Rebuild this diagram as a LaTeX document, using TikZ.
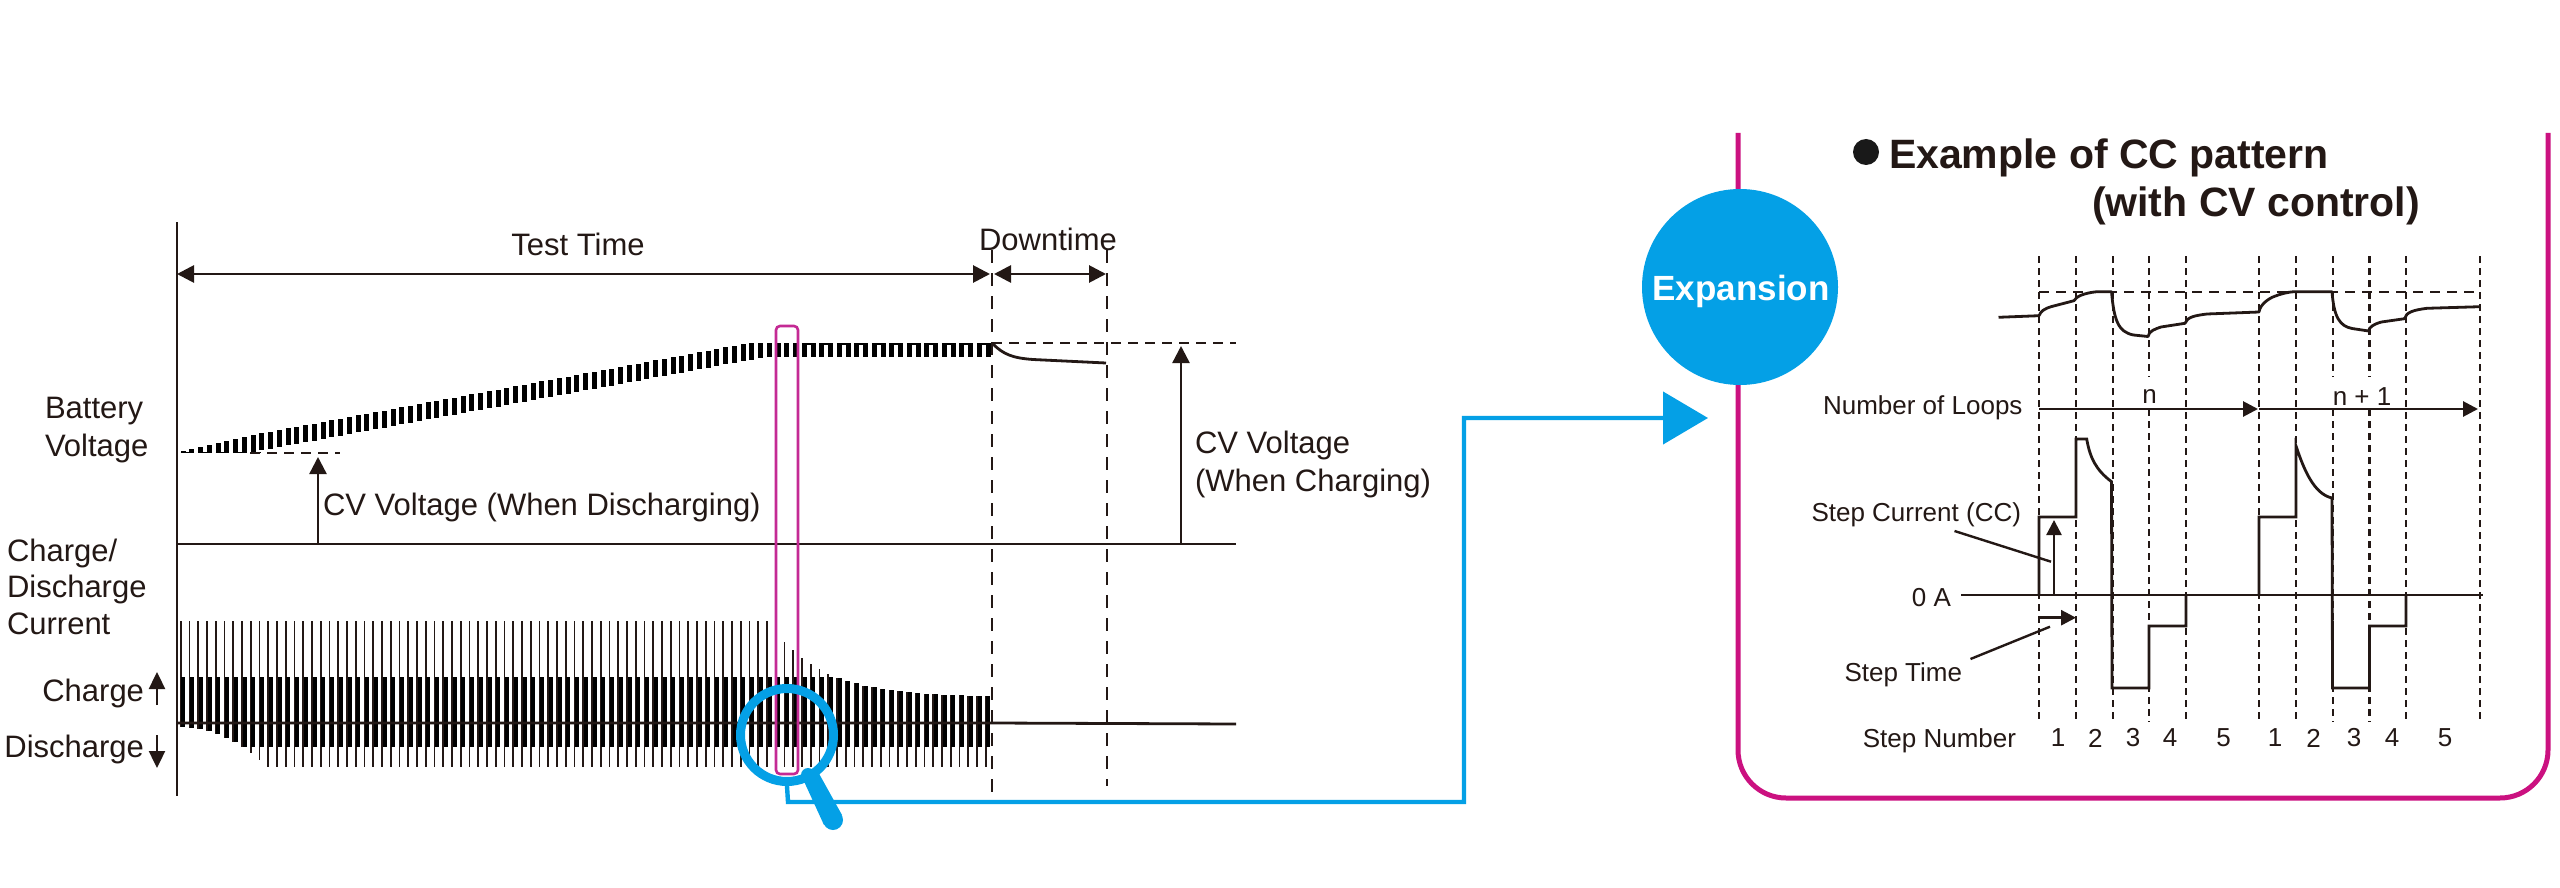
\documentclass[tikz,border=0pt]{standalone}
\usepackage{fontspec}
\setmainfont{Liberation Sans}
\usetikzlibrary{arrows.meta,calc}
\definecolor{ink}{HTML}{231815}
\definecolor{skyb}{HTML}{04A0E6}
\definecolor{magp}{HTML}{CB1180}
\definecolor{magn}{HTML}{C42A94}
\tikzset{
  x=1pt,y=-1pt,
  lab/.style={inner sep=0pt,outer sep=0pt,text=ink,font=\fontsize{31}{36}\selectfont},
  smalllab/.style={inner sep=0pt,outer sep=0pt,text=ink,font=\fontsize{26}{30}\selectfont},
  titlelab/.style={inner sep=0pt,outer sep=0pt,text=ink,font=\bfseries\fontsize{41}{48}\selectfont},
  solidline/.style={draw=ink,line width=2.8pt},
  thinline/.style={draw=ink,line width=2.4pt},
  bigdash/.style={draw=ink,line width=2.8pt,dash pattern=on 13pt off 10pt},
  hdash/.style={draw=ink,line width=2.4pt,dash pattern=on 10pt off 7pt},
  smalldash/.style={draw=ink,line width=2.2pt,dash pattern=on 7pt off 5pt},
  bighead/.style={-{Triangle[length=17pt,width=17pt]}},
  bothhead/.style={{Triangle[length=17pt,width=17pt]}-{Triangle[length=17pt,width=17pt]}},
  smallhead/.style={-{Triangle[length=15pt,width=15pt]}},
}
\begin{document}
\begin{tikzpicture}
\useasboundingbox (0,0) rectangle (2560,888);
\fill[white] (0,0) rectangle (2560,888);

% --- panel
\draw[magp,line width=5pt,line cap=butt] (1738,133) -- (1738,750) arc[start angle=180,end angle=90,radius=48,y=1pt]
  -- (2500,798) arc[start angle=90,end angle=0,radius=48,y=1pt] -- (2548,133);

% --- left chart: pulses
\foreach \k in {-60,...,32}{
  \pgfmathsetmacro{\px}{705.7+8.75*\k}
  \pgfmathsetmacro{\curtop}{\px<775 ? 621 : 697-67*exp(-(max(\px,775)-775)/50)}
  \pgfmathsetmacro{\bartop}{max(677,\curtop)}
  \pgfmathsetmacro{\curbot}{727+40*((min(\px,268)-177)/91)^2}
  \pgfmathsetmacro{\barbot}{min(747,\curbot)}
  \fill[ink] (\px-0.8,\curtop) rectangle (\px+0.8,\curbot);
  \fill[black] (\px+0.6,\bartop) rectangle (\px+4.6,\barbot);
  \pgfmathsetmacro{\vbot}{min(453,max(357,452-0.185*(\px-250)))}
  \pgfmathsetmacro{\vtop}{max(343,\px<250 ? 451-(\px-180)*0.23 : \vbot-17)}
  \fill[black] (\px,\vtop) rectangle (\px+5,\vbot);
  \pgfmathtruncatemacro{\odd}{mod(\k+60,2)}
  \ifnum\odd=1
    \ifdim\px pt>800pt
      \draw[black,line width=1.6pt] (\px,\vtop+0.8) -- (\px+10,\vtop+0.8);
    \fi
  \fi
}
\foreach \k in {-60,-58,-56,-54,-52}{
  \pgfmathsetmacro{\px}{705.7+8.75*\k}
  \draw[black,line width=1.6pt] (\px,452.5) -- (\px+10,452.5);
}

% --- coordinates
\coordinate (axT) at (177,222);
\coordinate (axB) at (177,796);
\coordinate (ttL) at (177,274);
\coordinate (ttR) at (990,274);
\coordinate (dtL) at (994,274);
\coordinate (dtR) at (1106,274);
\coordinate (d1T) at (992,250);
\coordinate (d1B) at (992,793);
\coordinate (d2T) at (1107,250);
\coordinate (d2B) at (1107,786);
\coordinate (zL) at (177,544);
\coordinate (zR) at (1236,544);
\coordinate (cL) at (177,723);
\coordinate (cM) at (992,723);
\coordinate (cR) at (1236,724);
\coordinate (a1B) at (318,544);
\coordinate (a1T) at (318,457);
\coordinate (a2B) at (1181,544);
\coordinate (a2T) at (1181,346);
\coordinate (hd1L) at (250,453);
\coordinate (hd1R) at (340,453);
\coordinate (hd2L) at (992,343);
\coordinate (hd2R) at (1236,343);

\draw[solidline] (axT) -- (axB);
\draw[solidline] (zL) -- (zR);
\draw[solidline] (cL) -- (cM) -- (cR);
\draw[thinline,bighead] (a1B) -- (a1T);
\draw[thinline,bighead] (a2B) -- (a2T);
\draw[solidline,bothhead] (ttL) -- (ttR);
\draw[solidline,bothhead] (dtL) -- (dtR);
\draw[bigdash] (d1T) -- (d1B);
\draw[bigdash] (d2T) -- (d2B);
\draw[hdash] (hd1L) -- (hd1R);
\draw[hdash] (hd2L) -- (hd2R);
\draw[solidline] (993,344) .. controls (1003,354) and (1012,358) .. (1033,359.5) -- (1106,363);
\draw[draw=ink,line width=2.4pt,-{Triangle[length=17pt,width=16pt]}] (157,705) -- (157,672);
\draw[draw=ink,line width=2.4pt,-{Triangle[length=17pt,width=16pt]}] (157,735) -- (157,768);

% --- selection box
\draw[magn,line width=2.6pt,rounded corners=4pt] (776,326) rectangle (798,774);

% --- left labels
\node[lab,anchor=west] (battA) at (45,411) {Battery};
\node[lab,anchor=west] (battB) at (45,448) {Voltage};
\node[lab,anchor=west] (chgA) at (7,553) {Charge/};
\node[lab,anchor=west] (chgB) at (7,589) {Discharge};
\node[lab,anchor=west] (chgC) at (7,624) {Current};
\node[lab,anchor=east] (chg) at (144,693.5) {Charge};
\node[lab,anchor=east] (dis) at (144,749.5) {Discharge};
\node[lab] (tt) at (578,244) {Test Time};
\node[lab] (dt) at (1048,239) {Downtime};
\node[lab,anchor=west] (cvd) at (323,507) {CV Voltage (When Discharging)};
\node[lab,anchor=west] (cvcA) at (1195,445) {CV Voltage};
\node[lab,anchor=west] (cvcB) at (1195,483) {(When Charging)};

% --- magnifier
\node[circle,draw=skyb,line width=9pt,minimum size=93pt,inner sep=0pt] (lens) at (787,735) {};
\coordinate (hS) at (808,775);
\coordinate (hE) at (833,820);

% --- expansion connector
\coordinate (c1) at (788,802);
\coordinate (c2) at (1464,802);
\coordinate (c3) at (1464,418);
\coordinate (tip) at (1708,418);
\draw[skyb,line width=4.4pt,-{Triangle[length=45pt,width=52pt]}] (lens.south) -- (c1) -- (c2) -- (c3) -- (tip);
\fill[skyb] ($(hS)+(-6,2)$) -- ($(hS)+(9,-5)$) -- ($(hE)+(9,-5)$) -- ($(hE)+(-9,5)$) -- cycle;
\fill[skyb] (hE) circle[radius=10pt];
\fill[skyb] (hS) circle[radius=7pt];

\node[circle,fill=skyb,minimum size=196pt,inner sep=0pt,outer sep=0pt] (exp) at (1740,287) {};
\node[inner sep=0pt,text=white,font=\bfseries\fontsize{35}{40}\selectfont] (explab) at (1741,291) {Expansion};

% --- title
\fill[black!90] (1866,152) circle[radius=13pt];
\node[titlelab,anchor=west] (t1) at (1889,158) {Example of CC pattern};
\node[titlelab,anchor=west] (t2) at (2092,206) {(with CV control)};

% --- detail dashed verticals
\foreach \xx in {2039,2076,2113,2186,2259,2296,2406,2480}{
  \draw[smalldash] (\xx,256) -- (\xx,722);
}
\foreach \xx in {2149,2333,2369.5}{
  \draw[smalldash] (\xx,256) -- (\xx,377);
  \draw[smalldash] (\xx,409) -- (\xx,722);
}
\coordinate (hdA) at (2039,292);
\coordinate (hdB) at (2480,292);
\draw[hdash] (hdA) -- (hdB);

% --- detail voltage curve
\draw[solidline] (1998.5,317.3) -- (2039,315.7);
\draw[solidline,line join=round] (2039,315.7) .. controls (2041,311) and (2044,309) .. (2051,306.7) -- (2074,300.7) .. controls (2076,296.5) and (2084,293) .. (2097,291.7) -- (2111.5,291.7)
  .. controls (2114,320) and (2118,332) .. (2133.5,335) -- (2148,336.5) .. controls (2149,331) and (2155,329) .. (2161,327) -- (2185,323.3)
  .. controls (2187,317) and (2195,315.5) .. (2207,314) -- (2259,312) .. controls (2260,304) and (2270,298) .. (2273.6,296.7) .. controls (2280,294) and (2288,292) .. (2294,291.7) -- (2332,291.7)
  .. controls (2334,318) and (2340,326) .. (2352,328.5) -- (2368.6,331) .. controls (2369,327) and (2374,324) .. (2381.5,322) -- (2404.5,318.7)
  .. controls (2406,312) and (2414,310) .. (2427,308.3) -- (2479.7,306.7);

% --- loops
\coordinate (lA) at (2039,409);
\coordinate (lB) at (2258,409);
\coordinate (lC) at (2259,409);
\coordinate (lD) at (2478,409);
\draw[solidline,smallhead] (lA) -- (lB);
\draw[solidline,smallhead] (lC) -- (lD);
\node[smalllab] (n1) at (2149.6,397) {n};
\node[smalllab] (n2) at (2362,397) {n + 1};
\node[smalllab,anchor=east] (nl) at (2022.5,408) {Number of Loops};

% --- detail current
\coordinate (zA) at (1961,595);
\coordinate (zB) at (2483,595);
\draw[solidline] (zA) -- (zB);
\draw[solidline,line join=miter] (2039,595) -- (2039,517) -- (2076,517) -- (2076,439) -- (2086.7,439)
  .. controls (2090,458) and (2096,470) .. (2111.5,481.7) -- (2112,688) -- (2149,688) -- (2149,626) -- (2186,626) -- (2186,595);
\draw[solidline,line join=miter] (2259,595) -- (2259,517) -- (2296,517) -- (2296,446)
  .. controls (2304,470) and (2314,494) .. (2332,498) -- (2332.5,688) -- (2369.5,688) -- (2369.5,626) -- (2406,626) -- (2406,595);
\coordinate (scB) at (2054,595);
\coordinate (scT) at (2054,520);
\draw[thinline,smallhead] (scB) -- (scT);
\coordinate (stL) at (2039,617.7);
\coordinate (stR) at (2076,617.7);
\draw[solidline,smallhead] (stL) -- (stR);
\coordinate (ld1) at (2051,561.7);
\coordinate (ld2) at (2050,626.7);
\node[smalllab,anchor=east] (sc) at (2021,515) {Step Current (CC)};
\node[smalllab,anchor=east] (st) at (1962,675) {Step Time};
\node[smalllab,anchor=east] (oa) at (1951,598) {0 A};
\draw[thinline] (1954.5,531) -- (ld1);
\draw[thinline] (1970.5,659) -- (ld2);
\node[smalllab,anchor=east] (sn) at (2016,741) {Step Number};
\node[smalllab] (s1) at (2058,738) {1};
\node[smalllab] (s2) at (2095.4,738) {2};
\node[smalllab] (s3) at (2133,738) {3};
\node[smalllab] (s4) at (2170,738) {4};
\node[smalllab] (s5) at (2223.5,738) {5};
\node[smalllab] (s6) at (2275,738) {1};
\node[smalllab] (s7) at (2313.5,738) {2};
\node[smalllab] (s8) at (2354,738) {3};
\node[smalllab] (s9) at (2392,738) {4};
\node[smalllab] (s10) at (2445,738) {5};
\end{tikzpicture}
\end{document}
